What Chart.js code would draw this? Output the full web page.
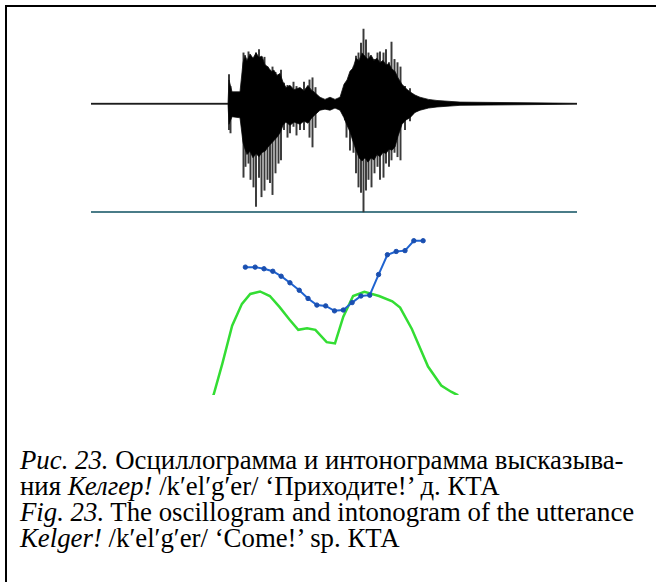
<!DOCTYPE html>
<html>
<head>
<meta charset="utf-8">
<script src="https://cdn.jsdelivr.net/npm/chart.js@4.4.1/dist/chart.umd.min.js"></script>
<style>
  html, body { margin: 0; padding: 0; background: #fff; overflow: hidden; }
  body { width: 656px; height: 582px; position: relative; }
  #frame { position: absolute; left: 5px; top: 5px; width: 700px; height: 700px; border-left: 2px solid #000; border-top: 2px solid #000; }
  #osc { position: absolute; left: 91px; top: 28px; width: 486px; height: 185px; }
  #into { position: absolute; left: 91px; top: 225px; width: 486px; height: 175px; }
  #caption { position: absolute; left: 20px; top: 447px; font-family: "Liberation Serif", "Times New Roman", serif; font-size: 26.8px; line-height: 26px; color: #000; white-space: nowrap; }
</style>
</head>
<body>
<div id="frame"></div>
<div id="osc"><canvas id="oscCanvas"></canvas></div>
<div id="into"><canvas id="intoCanvas"></canvas></div>
<div id="caption">
  <div><i>Рис. 23.</i> Осциллограмма и интонограмма высказыва-</div>
  <div>ния <i>Келгер!</i> /k′el′g′er/ ‘Приходите!’ д. КТА</div>
  <div><i>Fig. 23.</i> The oscillogram and intonogram of the utterance</div>
  <div><i>Kelger!</i> /k′el′g′er/ ‘Come!’ sp. КТА</div>
</div>
<script>
// время в мс (0..972), амплитуда условная (-1..0.7)
const envTime   = [0, 274, 276, 282, 298, 304, 308, 312, 318, 324, 330, 336, 342, 348, 354, 360, 366, 372, 378, 384, 390, 398, 406, 418, 426, 434, 440, 446, 458, 468, 478, 488, 498, 506, 512, 518, 524, 530, 536, 542, 548, 554, 560, 566, 572, 578, 584, 590, 596, 602, 608, 614, 622, 630, 638, 648, 658, 675, 692, 738, 972];
const envTop    = [0.004, 0.004, 0.22, 0.11, 0.11, 0.38, 0.45, 0.40, 0.46, 0.42, 0.47, 0.43, 0.44, 0.36, 0.34, 0.30, 0.31, 0.26, 0.28, 0.20, 0.15, 0.17, 0.13, 0.15, 0.12, 0.17, 0.13, 0.11, 0.06, 0.04, 0.06, 0.04, 0.06, 0.18, 0.22, 0.30, 0.33, 0.42, 0.40, 0.47, 0.44, 0.41, 0.45, 0.40, 0.42, 0.38, 0.40, 0.36, 0.37, 0.32, 0.30, 0.24, 0.18, 0.14, 0.11, 0.08, 0.06, 0.04, 0.03, 0.015, 0.004];
const envBottom = [-0.004, -0.004, -0.19, -0.12, -0.13, -0.36, -0.42, -0.47, -0.44, -0.50, -0.46, -0.49, -0.45, -0.44, -0.40, -0.37, -0.34, -0.31, -0.27, -0.20, -0.17, -0.20, -0.17, -0.19, -0.16, -0.18, -0.14, -0.11, -0.06, -0.05, -0.06, -0.04, -0.06, -0.13, -0.20, -0.26, -0.35, -0.43, -0.50, -0.53, -0.50, -0.54, -0.50, -0.52, -0.47, -0.49, -0.45, -0.46, -0.42, -0.43, -0.40, -0.30, -0.19, -0.15, -0.13, -0.08, -0.06, -0.04, -0.03, -0.015, -0.004];

// отдельные пики осциллограммы
const spikeTime   = [276, 279, 305, 309, 315, 319, 325, 330, 336, 341, 347, 353, 358, 363, 369, 375, 380, 386, 393, 398, 405, 411, 418, 426, 437, 443, 449, 508, 511, 518, 525, 530, 535, 540, 545, 550, 555, 561, 567, 573, 578, 585, 590, 596, 601, 607, 613, 619, 628, 638];
const spikeTop    = [0.27, 0.16, 0.47, 0.38, 0.48, 0.44, 0.41, 0.47, 0.50, 0.41, 0.43, 0.34, 0.31, 0.34, 0.29, 0.27, 0.31, 0.19, 0.17, 0.16, 0.20, 0.16, 0.13, 0.20, 0.22, 0.24, 0.15, 0.16, 0.19, 0.27, 0.34, 0.44, 0.47, 0.56, 0.69, 0.59, 0.47, 0.38, 0.41, 0.47, 0.48, 0.47, 0.50, 0.38, 0.57, 0.41, 0.38, 0.34, 0.16, 0.14];
const spikeBottom = [-0.24, -0.27, -0.68, -0.58, -0.55, -0.70, -0.77, -0.95, -0.68, -0.86, -0.80, -0.70, -0.73, -0.84, -0.64, -0.55, -0.52, -0.24, -0.31, -0.27, -0.21, -0.29, -0.24, -0.24, -0.31, -0.40, -0.22, -0.15, -0.31, -0.43, -0.45, -0.64, -0.77, -0.82, -1.0, -0.80, -0.70, -0.77, -0.64, -0.58, -0.70, -0.68, -0.55, -0.58, -0.52, -0.45, -0.49, -0.52, -0.24, -0.16];

// интонограмма: ЧОТ (Гц) и интенсивность (дБ)
const f0Time = [305, 325, 343, 361, 378, 396, 415, 433, 451, 469, 487, 505, 523, 541, 559, 577, 595, 613, 631, 649, 668];
const f0Hz   = [255, 255, 253, 250, 244, 236, 227, 217, 209, 208, 202, 203, 212, 220, 221, 246, 270, 274, 275, 287, 287];
const intTime = [232, 240, 258, 278, 298, 315, 335, 355, 375, 395, 413, 431, 448, 471, 488, 505, 525, 548, 578, 605, 621, 645, 678, 705, 725, 738, 744];
const intDb   = [37.3, 40, 47.6, 56.8, 62.1, 64.5, 65.1, 64.0, 61.3, 58.3, 55.8, 56.2, 55.8, 52.8, 52.5, 59.0, 64.0, 65.0, 64.0, 62.7, 61.2, 56.0, 46.9, 42.3, 40.8, 40, 38.2];

const timeMax = 972;

const xy = (xs, ys) => xs.map((x, i) => ({ x, y: ys[i] }));

document.addEventListener('DOMContentLoaded', () => {
    Chart.defaults.animation = false;
    Chart.defaults.plugins.legend.display = false;
    Chart.defaults.plugins.tooltip.enabled = false;

    // осциллограмма
    new Chart(document.getElementById('oscCanvas'), {
        data: {
            datasets: [
                {
                    type: 'line',
                    data: xy(envTime, envTop),
                    borderColor: '#111',
                    borderWidth: 0.8,
                    backgroundColor: '#000',
                    pointRadius: 0,
                    fill: '+1',
                },
                {
                    type: 'line',
                    data: xy(envTime, envBottom),
                    borderColor: '#111',
                    borderWidth: 0.8,
                    pointRadius: 0,
                    fill: false,
                },
                {
                    type: 'bar',
                    data: spikeTime.map((t, i) => ({ x: t, y: [spikeBottom[i], spikeTop[i]] })),
                    backgroundColor: '#3a3a3a',
                    barThickness: 1.3,
                },
                {
                    // нижняя граница панели
                    type: 'line',
                    data: [{ x: 0, y: -1 }, { x: timeMax, y: -1 }],
                    borderColor: '#4a7c88',
                    borderWidth: 2,
                    pointRadius: 0,
                },
            ],
        },
        options: {
            responsive: true,
            maintainAspectRatio: false,
            layout: { padding: 0 },
            scales: {
                x: { type: 'linear', min: 0, max: timeMax, display: false, offset: false },
                y: { min: -1.01, max: 0.70, display: false },
            },
        },
    });

    // интонограмма
    new Chart(document.getElementById('intoCanvas'), {
        type: 'line',
        data: {
            datasets: [
                {
                    label: 'F0',
                    data: xy(f0Time, f0Hz),
                    yAxisID: 'y',
                    borderColor: '#1f63d0',
                    borderWidth: 2,
                    pointRadius: 2.2,
                    pointBackgroundColor: '#1a4fb0',
                    pointBorderColor: '#1a4fb0',
                    pointBorderWidth: 1,
                    order: 0,
                },
                {
                    label: 'Интенсивность',
                    data: xy(intTime, intDb),
                    yAxisID: 'y2',
                    borderColor: '#33dd33',
                    borderWidth: 2.5,
                    pointRadius: 0,
                    order: 1,
                },
            ],
        },
        options: {
            responsive: true,
            maintainAspectRatio: false,
            layout: { padding: 0 },
            scales: {
                x: { type: 'linear', min: 0, max: timeMax, display: false },
                y: { min: 100, max: 300, display: false },
                y2: { min: 40, max: 80, display: false },
            },
        },
    });
});
</script>
</body>
</html>
